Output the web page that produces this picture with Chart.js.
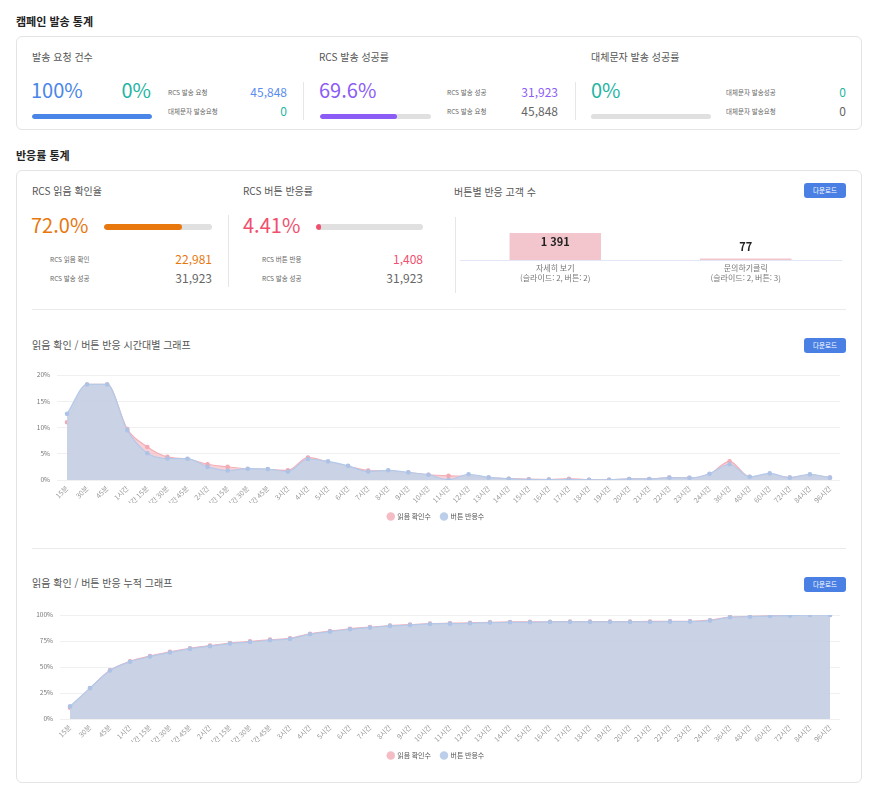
<!DOCTYPE html>
<html lang="ko">
<head>
<meta charset="utf-8">
<title>캠페인 발송 통계</title>
<script src="https://cdn.jsdelivr.net/npm/chart.js@4.4.1/dist/chart.umd.min.js"></script>
<style>
  body { margin: 0; background: #fff; font-family: 'Noto Sans CJK KR', 'Noto Sans', sans-serif; color: #333; }
  #page { position: relative; width: 878px; height: 800px; }
  .abs { position: absolute; white-space: nowrap; }
  .h { font-size: 11px; font-weight: 700; color: #222; line-height: 14px; }
  .card { position: absolute; border: 1px solid #e4e4e4; border-radius: 6px; box-sizing: border-box; }
  .t { font-size: 10px; color: #555; line-height: 12px; }
  .big { font-size: 20px; line-height: 24px; }
  .s { font-size: 6.5px; color: #666; line-height: 8px; }
  .n { font-size: 12px; line-height: 14px; }
  .bar { position: absolute; height: 5px; background: #e0e0e0; border-radius: 3px; overflow: hidden; }
  .bar i { display: block; height: 100%; border-radius: 3px; }
  .vl { position: absolute; width: 1px; background: #e6e6e6; }
  .hl { position: absolute; height: 1px; background: #eaeaea; }
  .btn { position: absolute; width: 42px; height: 15px; background: #4a80e4; color: #fff; font-size: 6.5px; line-height: 15px; text-align: center; border-radius: 3px; }
  canvas { position: absolute; }
</style>
</head>
<body>
<div id="page">
  <div class="abs h" style="left:16px;top:14px">캠페인 발송 통계</div>
  <div class="card" style="left:16px;top:36px;width:846px;height:94px"></div>

  <div class="abs t" style="left:32px;top:51px">발송 요청 건수</div>
  <div class="abs big" style="left:31px;top:78px;color:#4a86e8">100%</div>
  <div class="abs big" style="right:727px;top:78px;color:#1fb5a3">0%</div>
  <div class="bar" style="left:32px;top:114px;width:120px"><i style="width:100%;background:#4a86e8"></i></div>
  <div class="abs s" style="left:168px;top:88px">RCS 발송 요청</div>
  <div class="abs n" style="right:591px;top:85px;color:#5b8def">45,848</div>
  <div class="abs s" style="left:168px;top:107px">대체문자 발송요청</div>
  <div class="abs n" style="right:591px;top:104px;color:#1fb5a3">0</div>
  <div class="vl" style="left:303px;top:82px;height:38px"></div>

  <div class="abs t" style="left:319px;top:51px">RCS 발송 성공률</div>
  <div class="abs big" style="left:319px;top:78px;color:#8b5cf6">69.6%</div>
  <div class="bar" style="left:320px;top:114px;width:111px"><i style="width:69.6%;background:#8b5cf6"></i></div>
  <div class="abs s" style="left:447px;top:88px">RCS 발송 성공</div>
  <div class="abs n" style="right:320px;top:85px;color:#8b5cf6">31,923</div>
  <div class="abs s" style="left:447px;top:107px">RCS 발송 요청</div>
  <div class="abs n" style="right:320px;top:104px;color:#666">45,848</div>
  <div class="vl" style="left:575px;top:82px;height:38px"></div>

  <div class="abs t" style="left:591px;top:51px">대체문자 발송 성공률</div>
  <div class="abs big" style="left:591px;top:78px;color:#1fb5a3">0%</div>
  <div class="bar" style="left:591px;top:114px;width:120px"><i style="width:0%;background:#1fb5a3"></i></div>
  <div class="abs s" style="left:726px;top:88px">대체문자 발송성공</div>
  <div class="abs n" style="right:32px;top:85px;color:#1fb5a3">0</div>
  <div class="abs s" style="left:726px;top:107px">대체문자 발송요청</div>
  <div class="abs n" style="right:32px;top:104px;color:#666">0</div>

  <div class="abs h" style="left:16px;top:148px">반응률 통계</div>
  <div class="card" style="left:16px;top:170px;width:846px;height:613px"></div>

  <div class="abs t" style="left:32px;top:185px">RCS 읽음 확인율</div>
  <div class="abs big" style="left:31px;top:213px;color:#e8770e">72.0%</div>
  <div class="bar" style="left:104px;top:224px;width:108px;height:6px"><i style="width:72%;background:#e8770e"></i></div>
  <div class="abs s" style="left:50px;top:255px">RCS 읽음 확인</div>
  <div class="abs n" style="right:666px;top:252px;color:#e8770e">22,981</div>
  <div class="abs s" style="left:50px;top:274px">RCS 발송 성공</div>
  <div class="abs n" style="right:666px;top:271px;color:#666">31,923</div>
  <div class="vl" style="left:228px;top:215px;height:72px"></div>

  <div class="abs t" style="left:243px;top:185px">RCS 버튼 반응률</div>
  <div class="abs big" style="left:243px;top:213px;color:#f0506e">4.41%</div>
  <div class="bar" style="left:316px;top:224px;width:107px;height:6px"><i style="width:4.41%;background:#f0506e"></i></div>
  <div class="abs s" style="left:262px;top:255px">RCS 버튼 반응</div>
  <div class="abs n" style="right:455px;top:252px;color:#f0506e">1,408</div>
  <div class="abs s" style="left:262px;top:274px">RCS 발송 성공</div>
  <div class="abs n" style="right:455px;top:271px;color:#666">31,923</div>
  <div class="vl" style="left:455px;top:217px;height:76px"></div>

  <div class="abs t" style="left:454px;top:186px">버튼별 반응 고객 수</div>
  <div class="btn" style="left:804px;top:183px">다운로드</div>
  <canvas id="buttonChart" style="left:456px;top:200px;width:390px;height:95px"></canvas>

  <div class="hl" style="left:32px;top:309px;width:814px"></div>
  <div class="abs t" style="left:32px;top:339px">읽음 확인 / 버튼 반응 시간대별 그래프</div>
  <div class="btn" style="left:804px;top:338px">다운로드</div>
  <canvas id="hourlyChart" style="left:32px;top:362px;width:814px;height:168px"></canvas>

  <div class="hl" style="left:32px;top:548px;width:814px"></div>
  <div class="abs t" style="left:32px;top:577px">읽음 확인 / 버튼 반응 누적 그래프</div>
  <div class="btn" style="left:804px;top:577px">다운로드</div>
  <canvas id="cumulativeChart" style="left:32px;top:602px;width:814px;height:167px"></canvas>
</div>

<script>
// ===== 데이터 =====
const buttonLabels = [['자세히 보기', '(슬라이드: 2, 버튼: 2)'], ['문의하기클릭', '(슬라이드: 2, 버튼: 3)']];
const buttonCounts = [1391, 77];

const timeLabels = ['15분', '30분', '45분', '1시간', '1시간 15분', '1시간 30분', '1시간 45분',
    '2시간', '2시간 15분', '2시간 30분', '2시간 45분', '3시간', '4시간', '5시간', '6시간', '7시간',
    '8시간', '9시간', '10시간', '11시간', '12시간', '13시간', '14시간', '15시간', '16시간', '17시간',
    '18시간', '19시간', '20시간', '21시간', '22시간', '23시간', '24시간', '36시간', '48시간',
    '60시간', '72시간', '84시간', '96시간'];

const readRate = [11.0, 18.2, 18.2, 9.7, 6.3, 4.4, 4.0, 3.0, 2.5, 2.1, 2.0, 1.85, 4.3, 3.4, 2.6, 1.8,
    1.7, 1.4, 1.0, 0.8, 0.7, 0.4, 0.25, 0.15, 0.1, 0.25, 0.05, 0.05, 0.2, 0.2, 0.45, 0.4, 1.1, 3.55,
    0.6, 1.0, 0.45, 0.9, 0.45];
const buttonRate = [12.6, 18.2, 18.2, 9.5, 5.1, 4.1, 4.06, 2.5, 1.8, 2.15, 2.1, 1.6, 4.0, 3.55, 2.7, 1.6,
    1.85, 1.45, 1.0, 0.05, 1.1, 0.5, 0.25, 0.1, 0.1, 0.1, 0.05, 0.05, 0.2, 0.2, 0.45, 0.4, 1.2, 3.0,
    0.6, 1.27, 0.45, 1.1, 0.45];

const readCumulative = [10.8, 29.4, 46.8, 55.5, 60.6, 64.6, 68, 70.6, 73.1, 74.6, 76.3, 77.6, 82, 84.5,
    86.8, 88.3, 89.9, 90.8, 91.7, 92.1, 92.4, 93, 93.3, 93.4, 93.5, 93.6, 93.6, 93.6, 93.7, 93.8, 94,
    94, 95, 98.1, 98.6, 99.2, 99.5, 100, 100];
const buttonCumulative = [12.1, 29.7, 46.6, 55, 60, 64, 67.4, 70, 72.5, 74, 75.7, 77, 81.5, 84, 86.3,
    87.9, 89.5, 90.4, 91.4, 91.7, 92.0, 92.7, 93, 93, 93.3, 93.3, 93.3, 93.3, 93.3, 93.3, 93.6, 93.6,
    94.6, 97.8, 98.4, 99, 99.4, 100, 100];

const rateTicks = [0, 5, 10, 15, 20];
const cumulativeTicks = [0, 25, 50, 75, 100];

const FONT = "'Noto Sans CJK KR', 'Noto Sans', sans-serif";
Chart.defaults.font.family = FONT;
Chart.defaults.animation = false;

// ===== 버튼별 반응 고객 수 =====
const barValueLabels = {
    id: 'barValueLabels',
    afterDatasetsDraw(chart) {
        const ctx = chart.ctx;
        const meta = chart.getDatasetMeta(0);
        ctx.save();
        ctx.font = 'bold 11px ' + FONT;
        ctx.fillStyle = '#222';
        ctx.textAlign = 'center';
        ctx.textBaseline = 'middle';
        meta.data.forEach((bar, i) => {
            const text = String(buttonCounts[i]).replace(/\B(?=(\d{3})+(?!\d))/g, ' ');
            const y = Math.max(bar.y - 12, chart.chartArea.top + 9);
            ctx.fillText(text, bar.x, y);
        });
        ctx.restore();
    }
};

new Chart(document.getElementById('buttonChart'), {
    type: 'bar',
    data: {
        labels: buttonLabels,
        datasets: [{
            data: buttonCounts,
            backgroundColor: '#f2c6cc',
            barPercentage: 0.48,
            categoryPercentage: 1
        }]
    },
    options: {
        responsive: false,
        layout: { padding: { top: 33, left: 4, right: 5, bottom: 0 } },
        plugins: { legend: { display: false }, tooltip: { enabled: false } },
        scales: {
            y: { display: false, min: 0, max: Math.max(...buttonCounts) },
            x: {
                grid: { display: false, drawTicks: false },
                border: { display: true, color: '#e3e6f5' },
                ticks: { color: '#777', padding: 3, font: { size: 8, lineHeight: 1.25 } },
                afterFit: scale => { scale.height = 35; }
            }
        }
    },
    plugins: [barValueLabels]
});

// ===== 시간대별 / 누적 그래프 =====
const legendColors = ['#f4bcc4', '#bccfea'];

function lineConfig(readData, buttonData, ticks, yWidth) {
    return {
        type: 'line',
        data: {
            labels: timeLabels,
            datasets: [
                {
                    label: '읽음 확인수',
                    data: readData,
                    borderColor: '#f3b0b8',
                    backgroundColor: 'rgba(240, 170, 180, 0.55)',
                    pointBackgroundColor: '#f3aab3',
                    pointBorderColor: '#f3aab3',
                    fill: 'origin',
                    cubicInterpolationMode: 'monotone',
                    borderWidth: 1.2,
                    pointRadius: 1.7,
                    order: 1
                },
                {
                    label: '버튼 반응수',
                    data: buttonData,
                    borderColor: '#b5c9e9',
                    backgroundColor: 'rgba(199, 210, 230, 0.95)',
                    pointBackgroundColor: '#adc3e6',
                    pointBorderColor: '#adc3e6',
                    fill: 'origin',
                    cubicInterpolationMode: 'monotone',
                    borderWidth: 1.2,
                    pointRadius: 1.7,
                    order: 0
                }
            ]
        },
        options: {
            responsive: false,
            layout: { padding: { top: 13, right: 6, left: 0, bottom: 0 } },
            plugins: {
                tooltip: { enabled: false },
                legend: {
                    position: 'bottom',
                    labels: {
                        usePointStyle: true,
                        pointStyle: 'circle',
                        boxWidth: 6,
                        boxHeight: 6,
                        padding: 10,
                        color: '#555',
                        font: { size: 7 },
                        sort: (a, b) => a.datasetIndex - b.datasetIndex,
                        generateLabels: chart => Chart.defaults.plugins.legend.labels.generateLabels(chart)
                            .map(item => Object.assign(item, {
                                fillStyle: legendColors[item.datasetIndex],
                                strokeStyle: legendColors[item.datasetIndex],
                                lineWidth: 0
                            }))
                    }
                }
            },
            scales: {
                x: {
                    offset: true,
                    grid: { display: false, drawTicks: false },
                    border: { display: false },
                    ticks: {
                        autoSkip: false,
                        minRotation: 45,
                        maxRotation: 45,
                        padding: 4,
                        color: '#999',
                        font: { size: 7 }
                    },
                    afterFit: scale => { scale.height = 23; }
                },
                y: {
                    min: ticks[0],
                    max: ticks[ticks.length - 1],
                    grid: { color: '#f0f0f0', drawTicks: false },
                    border: { display: false },
                    afterBuildTicks: scale => { scale.ticks = ticks.map(v => ({ value: v })); },
                    ticks: {
                        padding: 7,
                        color: '#777',
                        font: { size: 6.5 },
                        callback: value => value + '%'
                    },
                    afterFit: scale => { scale.width = yWidth; }
                }
            }
        }
    };
}

new Chart(document.getElementById('hourlyChart'), lineConfig(readRate, buttonRate, rateTicks, 25));
new Chart(document.getElementById('cumulativeChart'), lineConfig(readCumulative, buttonCumulative, cumulativeTicks, 28));
</script>
</body>
</html>
